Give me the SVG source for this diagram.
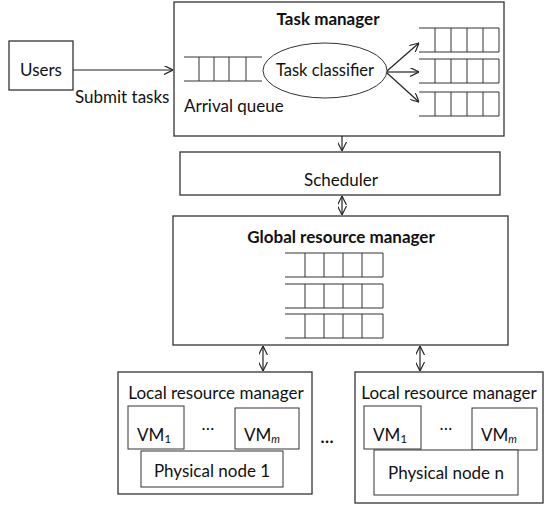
<svg xmlns="http://www.w3.org/2000/svg" width="544" height="505" viewBox="0 0 544 505">
<style>
.box{fill:#fff;stroke:#333;stroke-width:1.3}
.thin{fill:#fff;stroke:#333;stroke-width:1}
.q{fill:none;stroke:#333;stroke-width:1}
.ln{fill:none;stroke:#222;stroke-width:1.2}
text{font-family:Lato,"Open Sans",sans-serif;font-size:17px;fill:#111}
.b{font-weight:bold}
.m{text-anchor:middle}
</style>
<defs>
<marker id="ah" viewBox="0 0 10 10" refX="10" refY="5" markerWidth="9" markerHeight="9" markerUnits="userSpaceOnUse" orient="auto-start-reverse">
<path d="M0,0 L10,5 L0,10" fill="none" stroke="#222" stroke-width="1.3"/>
</marker>
<g id="q5">
<path class="q" d="M0,0 H80 V24 H0 M16,0 V24 M32,0 V24 M48,0 V24 M64,0 V24"/>
</g>
<g id="q5g">
<path class="q" d="M0,0 H98 V24 H0 M20,0 V24 M39,0 V24 M58,0 V24 M77,0 V24"/>
</g>
</defs>

<g id="users">
<rect class="box" x="9" y="41" width="64" height="49"/>
<text x="41" y="76" class="m">Users</text>
</g>

<g id="task-manager">
<rect class="box" x="174" y="2" width="330" height="134"/>
<text x="328" y="25" class="b m">Task manager</text>
<path class="q" d="M184,57 H262 M184,81 H262 M199,57 V81 M214,57 V81 M229,57 V81 M246,57 V81"/>
<text x="184" y="112">Arrival queue</text>
<use href="#q5" x="419" y="28"/>
<use href="#q5" x="419" y="59"/>
<use href="#q5" x="419" y="92"/>
</g>

<g id="task-classifier">
<ellipse class="thin" cx="325" cy="70.5" rx="62" ry="27.5"/>
<text x="325" y="76" class="m" style="font-size:16.5px">Task classifier</text>
</g>

<g id="scheduler">
<rect class="box" x="180" y="152" width="320" height="43"/>
<text x="341" y="186" class="m">Scheduler</text>
</g>

<g id="global-resource-manager">
<rect class="box" x="173" y="216" width="335" height="129"/>
<text x="341" y="243" class="b m">Global resource manager</text>
<use href="#q5g" x="285" y="253"/>
<use href="#q5g" x="285" y="284"/>
<use href="#q5g" x="285" y="314"/>
</g>

<g id="local-1">
<rect class="box" x="118" y="372" width="194" height="122"/>
<text x="216" y="399" class="m">Local resource manager</text>
<rect class="thin" x="128" y="406" width="56" height="43"/>
<text x="137" y="441">VM<tspan font-size="12" dy="2">1</tspan></text>
<text x="208" y="430" class="m">…</text>
<rect class="thin" x="235" y="408" width="64" height="41"/>
<text x="244" y="441">VM<tspan font-size="11" font-style="italic" dy="2">m</tspan></text>
<rect class="thin" x="141" y="451" width="142" height="36"/>
<text x="212" y="477" class="m">Physical node 1</text>
</g>

<g id="local-n">
<rect class="box" x="355" y="372" width="188" height="131"/>
<text x="449" y="399" class="m">Local resource manager</text>
<rect class="thin" x="364" y="406" width="57" height="43"/>
<text x="373" y="441">VM<tspan font-size="12" dy="2">1</tspan></text>
<text x="446" y="430" class="m">…</text>
<rect class="thin" x="472" y="408" width="65" height="42"/>
<text x="481" y="441">VM<tspan font-size="11" font-style="italic" dy="2">m</tspan></text>
<rect class="thin" x="374" y="450" width="144" height="45"/>
<text x="446" y="479" class="m">Physical node n</text>
</g>

<text x="327" y="443" class="b m">…</text>

<g id="connectors">
<path class="ln" d="M73,70 H173" marker-end="url(#ah)"/>
<text x="75" y="103">Submit tasks</text>
<path class="ln" d="M387,71 L419,43" marker-end="url(#ah)"/>
<path class="ln" d="M387,72 L419,72" marker-end="url(#ah)"/>
<path class="ln" d="M387,73 L419,102" marker-end="url(#ah)"/>
<path class="ln" d="M342,136 V151" marker-end="url(#ah)"/>
<path class="ln" d="M342,196 V215" marker-start="url(#ah)" marker-end="url(#ah)"/>
<path class="ln" d="M263,346 V371" marker-start="url(#ah)" marker-end="url(#ah)"/>
<path class="ln" d="M420,346 V371" marker-start="url(#ah)" marker-end="url(#ah)"/>
</g>
</svg>
